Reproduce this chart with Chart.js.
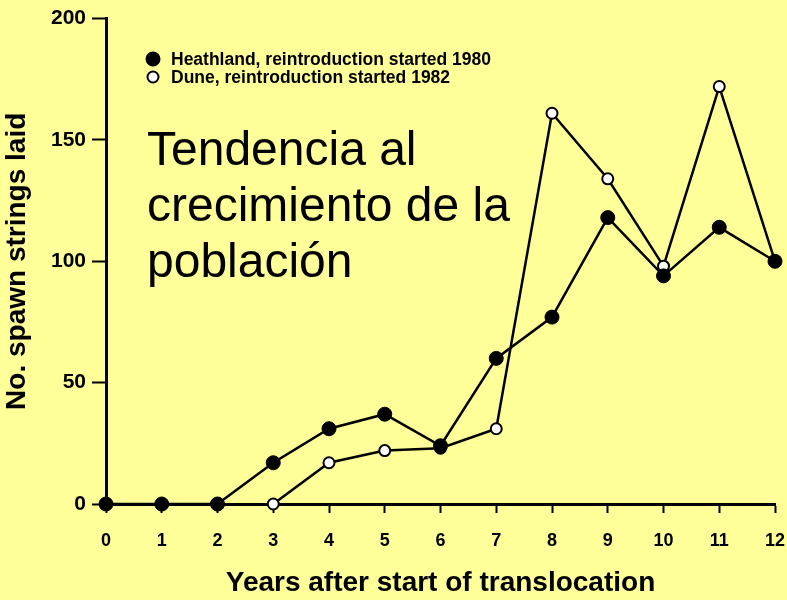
<!DOCTYPE html>
<html>
<head>
<meta charset="utf-8">
<script src="https://cdn.jsdelivr.net/npm/chart.js@4/dist/chart.umd.min.js"></script>
<style>
  html, body { margin: 0; padding: 0; background: #ffff99; }
  #chart { display: block; }
</style>
</head>
<body>
<canvas id="chart" width="787" height="600"></canvas>
<script>
// data
const years = ['0', '1', '2', '3', '4', '5', '6', '7', '8', '9', '10', '11', '12'];
const heathland = [0, 0, 0, 17, 31, 37, 24, 60, 77, 118, 94, 114, 100];
const dune = [null, null, null, 0, 17, 22, 23, 31, 161, 134, 98, 172, 100];
const yTicks = [0, 50, 100, 150, 200];
const overlayLines = ['Tendencia al', 'crecimiento de la', 'población'];

const boldFont = "'Liberation Sans', Arial, sans-serif";

// legend drawn inside the plot, top-left
const insideLegend = {
    id: 'insideLegend',
    afterDraw(chart) {
        const ctx = chart.ctx;
        ctx.save();
        ctx.font = 'bold 17.5px ' + boldFont;
        ctx.textBaseline = 'middle';
        chart.data.datasets.forEach((ds, i) => {
            const y = 59 + i * 18;
            ctx.beginPath();
            ctx.arc(153, y, i === 0 ? 6.5 : 5.5, 0, Math.PI * 2);
            ctx.fillStyle = ds.pointBackgroundColor;
            ctx.fill();
            ctx.lineWidth = 2;
            ctx.strokeStyle = '#000';
            ctx.stroke();
            ctx.fillStyle = '#000';
            ctx.fillText(ds.label, 171, y + 1);
        });
        ctx.restore();
    }
};

// the large Spanish caption over the plot
const overlayText = {
    id: 'overlayText',
    afterDraw(chart) {
        const ctx = chart.ctx;
        ctx.save();
        ctx.font = '48px ' + boldFont;
        ctx.fillStyle = '#000';
        ctx.textBaseline = 'alphabetic';
        overlayLines.forEach((t, i) => ctx.fillText(t, 147, 165 + i * 56));
        ctx.restore();
    }
};

new Chart(document.getElementById('chart'), {
    type: 'line',
    data: {
        labels: years,
        datasets: [{
            label: 'Heathland, reintroduction started 1980',
            data: heathland,
            borderColor: '#000',
            borderWidth: 2.5,
            pointBackgroundColor: '#000',
            pointBorderColor: '#000',
            pointRadius: 7,
            pointBorderWidth: 1,
            tension: 0,
            clip: false
        }, {
            label: 'Dune, reintroduction started 1982',
            data: dune,
            borderColor: '#000',
            borderWidth: 2.5,
            pointBackgroundColor: '#ffffff',
            pointBorderColor: '#000',
            pointRadius: 5.5,
            pointBorderWidth: 2,
            tension: 0,
            clip: false
        }]
    },
    options: {
        responsive: false,
        animation: false,
        layout: { padding: { top: 12, right: 12, left: 0, bottom: 0 } },
        plugins: {
            legend: { display: false },
            tooltip: { enabled: false }
        },
        scales: {
            x: {
                offset: false,
                border: { display: true, color: '#000', width: 3 },
                grid: { display: true, drawOnChartArea: false, drawTicks: true, tickLength: 9, tickWidth: 2, tickColor: '#000' },
                ticks: { color: '#000', font: { family: boldFont, size: 18, weight: 'bold' }, padding: 17, maxRotation: 0, autoSkip: false },
                title: { display: true, text: 'Years after start of translocation', color: '#000', font: { family: boldFont, size: 28, weight: 'bold' }, padding: { top: 19, bottom: 0 } },
                afterFit(scale) {
                    scale.height = 96;
                    scale.paddingLeft = 0;
                    scale.paddingRight = 0;
                }
            },
            y: {
                min: 0,
                max: 200,
                afterBuildTicks(scale) { scale.ticks = yTicks.map(v => ({ value: v })); },
                border: { display: true, color: '#000', width: 3 },
                grid: { display: true, drawOnChartArea: false, drawTicks: true, tickLength: 14, tickWidth: 2, tickColor: '#000' },
                ticks: { color: '#000', font: { family: boldFont, size: 21, weight: 'bold' }, padding: 6 },
                title: { display: true, text: 'No. spawn strings laid', color: '#000', font: { family: boldFont, size: 28, weight: 'bold' }, padding: { top: 0, bottom: 2 } },
                afterFit(scale) { scale.width = 106; }
            }
        }
    },
    plugins: [insideLegend, overlayText]
});
</script>
</body>
</html>
